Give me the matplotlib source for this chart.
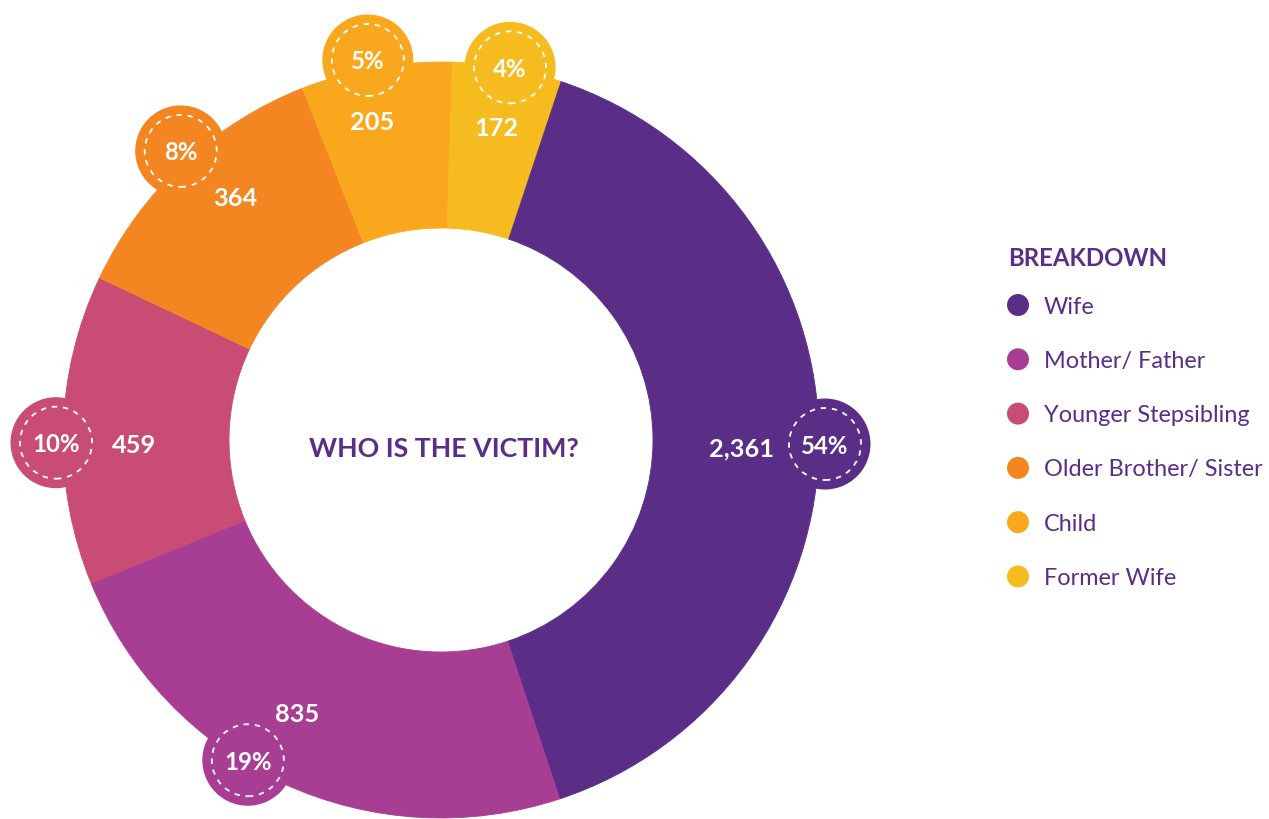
import numpy as np
import matplotlib.pyplot as plt
from matplotlib.patches import Circle

# data
categories = ["Wife", "Mother/ Father", "Younger Stepsibling",
              "Older Brother/ Sister", "Child", "Former Wife"]
counts = [2361, 835, 459, 364, 205, 172]
pct_labels = ["54%", "19%", "10%", "8%", "5%", "4%"]
# the slices in the reference are not drawn to scale; arc sizes (degrees) as drawn
arc_degrees = [143.3, 86.0, 47.7, 43.1, 23.2, 16.7]

colors = ["#5a2d87", "#a73e93", "#c84c74", "#f38621", "#f9a81d", "#f6bb1e"]
PURPLE = "#5a2d87"

# layout (clockwise angle from top, radius in px) for labels and bubbles
count_pos = [(91.3, 301), (207.9, 308), (269.3, 307), (319.8, 319), (347.8, 327), (10.1, 318)]
bubble_pos = [(90.6, 384), (211.1, 374), (269.6, 385), (318.0, 389), (349.1, 387), (10.5, 379)]

W, H = 1269, 819
CX, CY = 441, H - 440
R_OUT, R_IN = 378, 212

plt.rcParams["font.family"] = ["Lato", "DejaVu Sans"]


def polar(angle, r):
    a = np.deg2rad(angle)
    return CX + r * np.sin(a), CY + r * np.cos(a)


fig = plt.figure(figsize=(W / 100, H / 100), dpi=100)
ax = fig.add_axes([0, 0, 1, 1])

wedges, _ = ax.pie(arc_degrees, colors=colors, startangle=90 - 18.4, counterclock=False,
                   radius=R_OUT, center=(CX, CY),
                   wedgeprops=dict(width=R_OUT - R_IN, linewidth=0.6))
for w, c in zip(wedges, colors):
    w.set_edgecolor(c)
ax.set_xlim(0, W)
ax.set_ylim(0, H)
ax.set_aspect("equal")
ax.axis("off")

for i, cat in enumerate(categories):
    bx, by = polar(*bubble_pos[i])
    ax.add_patch(Circle((bx, by), 45.5, facecolor=colors[i], edgecolor="none", zorder=3))
    ax.add_patch(Circle((bx, by), 36, facecolor="none", edgecolor="white",
                        lw=1.3, linestyle=(0, (3, 3.2)), zorder=4))
    ax.text(bx, by, pct_labels[i], color="white", fontsize=17.3, fontweight="bold",
            ha="center", va="center_baseline", zorder=5)
    lx, ly = polar(*count_pos[i])
    ax.text(lx, ly, f"{counts[i]:,}", color="white", fontsize=18.3, fontweight="bold",
            ha="center", va="center_baseline", zorder=5)

ax.text(CX + 3, H - 447, "WHO IS THE VICTIM?", color=PURPLE, fontsize=19.3,
        fontweight="bold", ha="center", va="center_baseline")

# legend
ax.text(1008, H - 256, "BREAKDOWN", color=PURPLE, fontsize=17.3, fontweight="bold",
        ha="left", va="center_baseline")
for i, cat in enumerate(categories):
    y = H - (305 + 54.3 * i)
    ax.add_patch(Circle((1018, y), 11, facecolor=colors[i], edgecolor="none"))
    ax.text(1044, y, cat, color=PURPLE, fontsize=16.9, ha="left", va="center_baseline")

fig.savefig("out.png", dpi=100)
